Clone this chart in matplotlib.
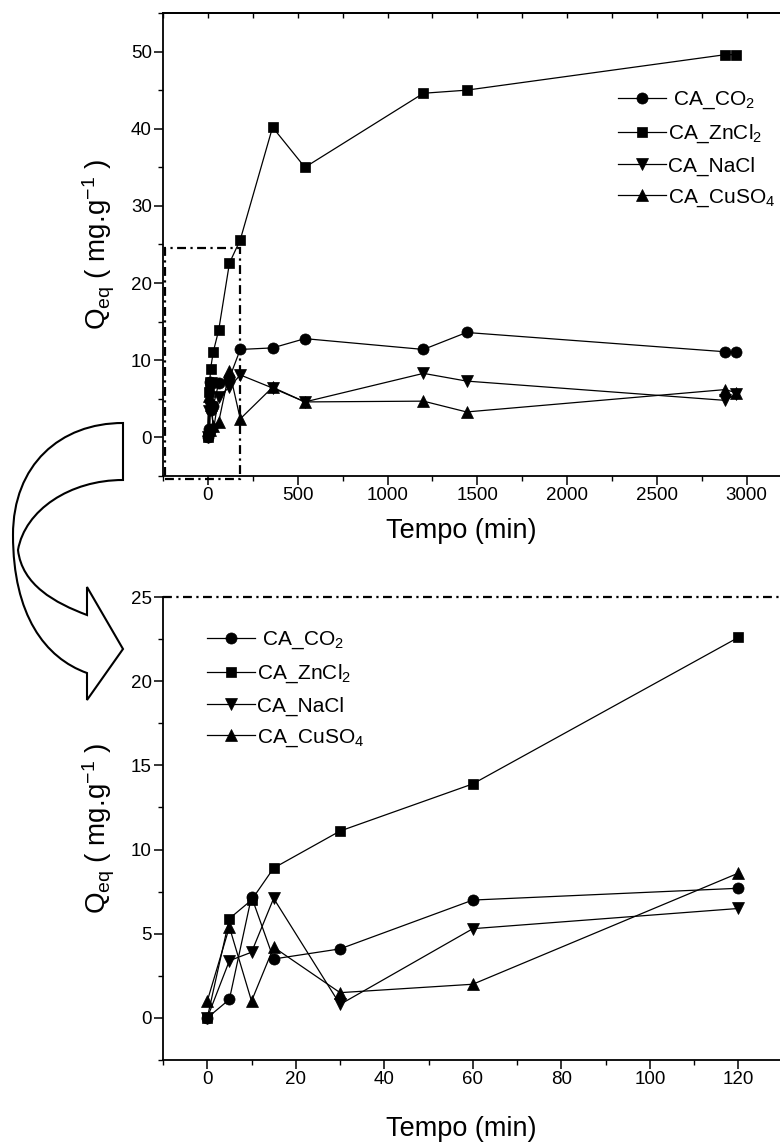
import matplotlib
matplotlib.use("Agg")
import matplotlib.pyplot as plt
from matplotlib.patches import Rectangle, PathPatch
from matplotlib.path import Path
from matplotlib.transforms import Affine2D

plt.rcParams['font.family'] = ['Liberation Sans', 'DejaVu Sans']
plt.rcParams['mathtext.fontset'] = 'custom'
plt.rcParams['mathtext.rm'] = 'Liberation Sans'
plt.rcParams['mathtext.it'] = 'Liberation Sans:italic'
plt.rcParams['mathtext.bf'] = 'Liberation Sans:bold'
plt.rcParams['mathtext.default'] = 'regular'

# ---------------- data ----------------
tempo = [0, 5, 10, 15, 30, 60, 120, 180, 360, 540, 1200, 1440, 2880, 2940]
q_co2 = [0, 1.1, 7.2, 3.5, 4.1, 7.0, 7.7, 11.4, 11.6, 12.8, 11.4, 13.6, 11.1, 11.1]
q_zncl2 = [0, 5.9, 7.0, 8.9, 11.1, 13.9, 22.6, 25.6, 40.2, 35.0, 44.6, 45.0, 49.6, 49.6]
q_nacl = [0, 3.4, 3.9, 7.1, 0.8, 5.3, 6.5, 8.1, 6.4, 4.6, 8.3, 7.3, 4.8, 5.6]
q_cuso4 = [1.0, 5.4, 1.0, 4.2, 1.5, 2.0, 8.6, 2.4, 6.5, 4.6, 4.7, 3.3, 6.2, 5.8]
n_zoom = 7  # points up to 120 min shown in lower panel

labels = [' CA_CO$_2$', 'CA_ZnCl$_2$', 'CA_NaCl', 'CA_CuSO$_4$']
series = [q_co2, q_zncl2, q_nacl, q_cuso4]
markers = ['o', 's', 'v', '^']
msizes = [8, 7, 8.5, 8.5]

W, H = 780, 1146
fig = plt.figure(figsize=(W / 100, H / 100), dpi=100)

def fr(x0, y0, x1, y1):
    return [x0 / W, 1 - y1 / H, (x1 - x0) / W, (y1 - y0) / H]

ax1 = fig.add_axes(fr(163, 13, 780, 476))
ax2 = fig.add_axes(fr(163, 597, 780, 1060))

dash = (0, (4, 2, 1, 2))
TICK_FS = 13.5
LAB_FS = 19.5
LEG_FS = 15

def style(ax):
    for s in ['left', 'bottom', 'top']:
        ax.spines[s].set_linewidth(1.3)
    ax.spines['right'].set_visible(False)
    ax.tick_params(which='major', direction='out', length=6.5, width=1.1,
                   labelsize=TICK_FS, pad=1.5)
    ax.tick_params(which='minor', direction='out', length=3.5, width=1.0)
    ax.tick_params(axis='y', which='both', right=False)
    ax.tick_params(axis='x', which='both', top=False)

# -------- top panel --------
for y, lab, m, ms in zip(series, labels, markers, msizes):
    ax1.plot(tempo, y, color='black', lw=0.9, marker=m, ms=ms,
             markeredgewidth=0.5, label=lab, clip_on=False)
ax1.set_xlim(-250, 3185)
ax1.set_ylim(-5, 55)
ax1.set_xticks([0, 500, 1000, 1500, 2000, 2500, 3000])
ax1.set_xticks(range(-250, 3200, 250), minor=True)
ax1.set_yticks([0, 10, 20, 30, 40, 50])
ax1.set_yticks(range(-5, 56, 5), minor=True)
style(ax1)
sec = ax1.secondary_xaxis('top')
sec.set_xticks(list(range(-250, 3200, 250)))
sec.tick_params(direction='in', length=3.5, width=1.0, labeltop=False)
sec.spines['top'].set_linewidth(1.3)
ax1.set_xlabel('Tempo (min)', fontsize=LAB_FS)
ax1.set_ylabel('Q$_{eq}$ ( mg.g$^{-1}$ )', fontsize=LAB_FS + 0.5)
ax1.xaxis.set_label_coords(0.483, -0.09)
ax1.yaxis.set_label_coords(-0.074, 0.5)
ax1.legend(loc='upper left', bbox_to_anchor=(0.737, 0.834), frameon=False,
           fontsize=LEG_FS, handlelength=2.3, handletextpad=0.1,
           labelspacing=0.55, borderpad=0, borderaxespad=0)
rect = Rectangle((-239, -5.45), 419, 29.95, fill=False, lw=1.6, ls=dash,
                 edgecolor='black', clip_on=False)
ax1.add_patch(rect)

# -------- bottom panel --------
t_zoom = tempo[:n_zoom]
for y, lab, m, ms in zip(series, labels, markers, msizes):
    ax2.plot(t_zoom, y[:n_zoom], color='black', lw=0.9, marker=m, ms=ms,
             markeredgewidth=0.5, label=lab, clip_on=False)
ax2.set_xlim(-10, 129.4)
ax2.set_ylim(-2.5, 25)
ax2.set_xticks([0, 20, 40, 60, 80, 100, 120])
ax2.set_xticks(range(-10, 130, 10), minor=True)
ax2.set_yticks([0, 5, 10, 15, 20, 25])
ax2.set_yticks([-2.5 + 2.5 * i for i in range(11)], minor=True)
style(ax2)
ax2.spines['top'].set_visible(False)
ax2.axhline(25, color='black', lw=1.6, ls=dash, clip_on=False)
ax2.set_xlabel('Tempo (min)', fontsize=LAB_FS)
ax2.set_ylabel('Q$_{eq}$ ( mg.g$^{-1}$ )', fontsize=LAB_FS + 0.5)
ax2.xaxis.set_label_coords(0.483, -0.122)
ax2.yaxis.set_label_coords(-0.074, 0.5)
ax2.legend(loc='upper left', bbox_to_anchor=(0.0713, 0.929), frameon=False,
           fontsize=LEG_FS, handlelength=2.3, handletextpad=0.1,
           labelspacing=0.55, borderpad=0, borderaxespad=0)

# -------- curved arrow (pixel coordinates) --------
verts = [
    (123, 423),
    (60, 423), (13, 465), (13, 535),
    (13, 615), (45, 658), (87, 673),
    (87, 700), (123, 649), (87, 587), (87, 615),
    (55, 603), (22, 585), (18, 550),
    (25, 510), (70, 480), (123, 480),
    (123, 423),
]
codes = [Path.MOVETO,
         Path.CURVE4, Path.CURVE4, Path.CURVE4,
         Path.CURVE4, Path.CURVE4, Path.CURVE4,
         Path.LINETO, Path.LINETO, Path.LINETO, Path.LINETO,
         Path.CURVE4, Path.CURVE4, Path.CURVE4,
         Path.CURVE4, Path.CURVE4, Path.CURVE4,
         Path.CLOSEPOLY]
path = Path(verts, codes)
to_fig = Affine2D().scale(1 / W, -1 / H).translate(0, 1) + fig.transFigure
arrow = PathPatch(path, facecolor='white', edgecolor='black', lw=1.5,
                  transform=to_fig, clip_on=False)
fig.patches.append(arrow)

fig.savefig('out.png', dpi=100)
